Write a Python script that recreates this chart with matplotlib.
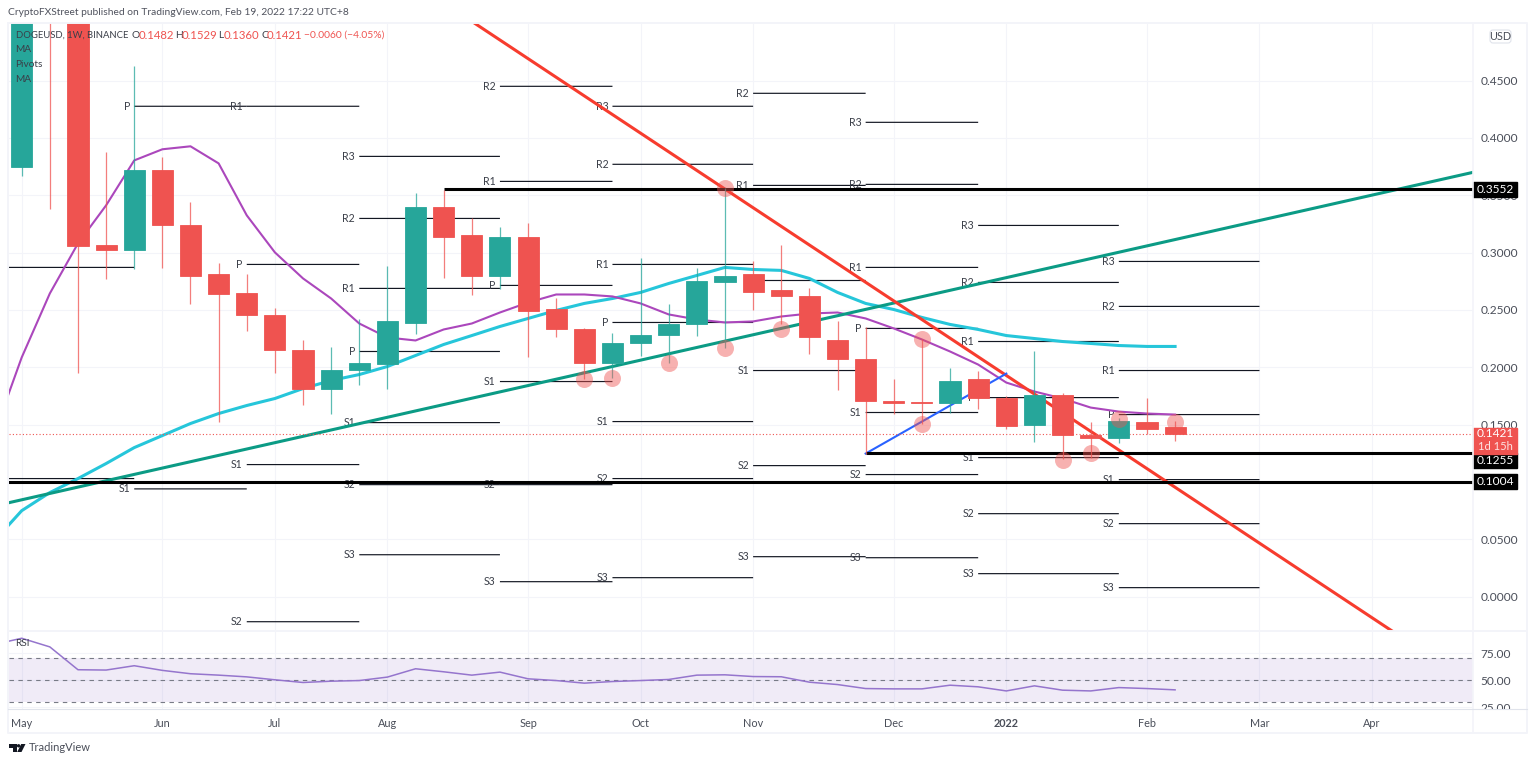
import numpy as np
import matplotlib
matplotlib.use("Agg")
import matplotlib.pyplot as plt
from matplotlib.patches import Rectangle, Polygon, Circle, FancyBboxPatch
from matplotlib.transforms import blended_transform_factory

plt.rcParams['font.family'] = ['Lato', 'DejaVu Sans']

# weekly candles, index 0 is the first week on the chart
opens = [.375, .56, .52, .307, .302, .372, .324, .281, .265, .246, .2155, .181, .198, .203,
         .239, .340, .315, .280, .314, .2505, .233, .204, .2215, .228, .238, .274, .281, .267,
         .2625, .224, .207, .171, .1695, .169, .1895, .173, .150, .176, .141, .138, .1525, .1482]
closes = [.56, .52, .306, .302, .372, .324, .280, .2635, .246, .2155, .181, .198, .204, .240,
          .340, .314, .280, .314, .2495, .233, .204, .221, .2285, .2375, .2755, .280, .266, .2625,
          .226, .207, .171, .1693, .1685, .1885, .1735, .149, .176, .141, .138, .153, .1465, .1421]
highs = [.58, .74, .55, .388, .463, .383, .344, .291, .281, .252, .224, .218, .2425, .288,
         .352, .355, .330, .322, .326, .260, .234, .230, .295, .2555, .287, .356, .293, .307,
         .2695, .240, .235, .190, .225, .199, .1965, .175, .2145, .178, .152, .156, .173, .1529]
lows = [.367, .338, .195, .277, .286, .287, .255, .152, .232, .195, .167, .159, .185, .181,
        .229, .278, .263, .268, .209, .226, .190, .191, .210, .204, .227, .217, .250, .238,
        .212, .180, .1248, .159, .151, .160, .164, .146, .135, .120, .121, .134, .142, .1360]

# moving averages and rsi start one week left of the chart edge
ma_purple = [.1405, .2086, .2644, .3080, .3412, .3804, .3901, .3927, .3778, .3325, .3002, .2775,
             .2600, .2382, .2260, .2234, .2330, .2382, .2478, .2565, .2635, .2635, .2618, .2557,
             .2461, .2417, .2391, .2400, .2443, .2469, .2478, .2426, .2339, .2243, .2138, .2024,
             .1867, .1789, .1728, .1649, .1614, .1597, .1588]
ma_cyan = [.0480, .0750, .0908, .1030, .1161, .1300, .1405, .1510, .1597, .1667, .1728, .1815,
           .1885, .1937, .2007, .2103, .2199, .2277, .2356, .2426, .2496, .2557, .2600, .2653,
           .2731, .2801, .2871, .2853, .2845, .2775, .2653, .2557, .2504, .2435, .2374, .2330,
           .2277, .2251, .2225, .2208, .2190, .2182, .2182]
rsi = [82.8, 88.7, 80.7, 59.6, 59.3, 63.3, 59.0, 55.9, 54.6, 53.0, 50.3, 47.8, 49.0, 49.6, 52.8,
       60.5, 57.7, 54.6, 57.4, 51.2, 49.6, 47.2, 48.7, 49.6, 50.6, 54.6, 54.9, 53.3, 53.1, 48.1,
       45.9, 42.2, 41.9, 41.9, 45.3, 43.8, 40.0, 44.7, 40.7, 40.0, 43.1, 42.2, 41.0]

# pivot levels per period
period_starts = [-1, 4, 8, 12, 17, 21, 26, 30, 34, 39]
period_ends = [4, 8, 12, 17, 21, 26, 30, 34, 39, 44]
period_names = [['P', 'S1'], ['P', 'S1'], ['R1', 'P', 'S1', 'S2'],
                ['R3', 'R2', 'R1', 'P', 'S1', 'S2', 'S3'], ['R2', 'R1', 'P', 'S1', 'S2', 'S3'],
                ['R3', 'R2', 'R1', 'P', 'S1', 'S2', 'S3'], ['R2', 'R1', 'P', 'S1', 'S2', 'S3'],
                ['R3', 'R2', 'R1', 'P', 'S1', 'S2', 'S3'], ['R3', 'R2', 'R1', 'P', 'S1', 'S2', 'S3'],
                ['R3', 'R2', 'R1', 'P', 'S1', 'S2', 'S3']]
period_prices = [[.2871, .1030], [.4276, .0940], [.4276, .2897, .1152, -.0218],
                 [.3839, .3298, .2688, .2138, .1518, .0977, .0366],
                 [.4450, .3621, .2714, .1876, .0977, .0131],
                 [.4276, .3770, .2897, .2391, .1527, .1030, .0166],
                 [.4389, .3586, .2757, .1972, .1143, .0349],
                 [.4136, .3595, .2871, .2339, .1606, .1065, .0340],
                 [.3237, .2740, .2225, .1736, .1213, .0724, .0201],
                 [.2923, .2531, .1972, .1588, .1021, .0637, .0079]]

# drawings
red_trend_x = [16.1, 48.75]
red_trend_y = [.5000, -.0305]
green_trend_x = [-.45, 51.59]
green_trend_y = [.0820, .3700]
blue_trend_x = [30, 35]
blue_trend_y = [.1248, .1945]
level_starts = [15, 30, -1]
level_prices = [.3552, .1255, .1004]
circle_x = [25, 20, 21, 23, 25, 27, 32, 32, 37, 38, 39, 41]
circle_y = [.356, .190, .191, .204, .217, .233, .225, .1505, .1195, .1255, .155, .1525]

price_ticks = [0, .05, .1, .15, .2, .25, .3, .35, .4, .45]
# 0.1000 sits fully behind the 0.1004 tag in the reference
price_tick_labels = ['0.0000', '0.0500', '', '0.1500', '0.2000', '0.2500', '0.3000', '0.3500',
                     '0.4000', '0.4500']
rsi_ticks = [25, 50, 75]
month_pos = [0, 5, 9, 13, 18, 22, 26, 31, 35, 40, 44, 48]
month_names = ['May', 'Jun', 'Jul', 'Aug', 'Sep', 'Oct', 'Nov', 'Dec', '2022', 'Feb', 'Mar', 'Apr']

UP = '#26a69a'
DOWN = '#ef5350'
GRID = '#f3f4f9'
TEXT = '#4a4e59'
W, H = 1536, 763


def pane(left, top, right, bottom):
    return [left / W, 1 - bottom / H, (right - left) / W, (bottom - top) / H]


fig = plt.figure(figsize=(W / 100, H / 100), dpi=100, facecolor='white')
ax = fig.add_axes(pane(9, 23, 1473, 631))
ax_rsi = fig.add_axes(pane(9, 631, 1473, 709))
for a in (ax, ax_rsi):
    a.set_xlim(-.4515, 51.59)
    a.set_xticks(month_pos)
    a.grid(True, color=GRID, lw=.8)
    a.set_axisbelow(True)
    a.yaxis.tick_right()
    a.tick_params(length=0, labelsize=8.6, labelcolor=TEXT, pad=5.5)
    for s in a.spines.values():
        s.set_visible(False)

ax.set_ylim(-.0299, .5002)
ax.set_yticks(price_ticks)
ax.set_yticklabels(price_tick_labels)
ax.tick_params(labelbottom=False)

x = np.arange(len(opens))
x_ma = np.arange(-1, len(opens))
o, c = np.array(opens), np.array(closes)
colors = [UP if cl >= op else DOWN for op, cl in zip(opens, closes)]

# pivots
for start, end, names, prices in zip(period_starts, period_ends, period_names, period_prices):
    for name, price in zip(names, prices):
        ax.plot([start, end], [price, price], color='#131722', lw=.85, zorder=2, snap=False,
                solid_capstyle='butt')
        if start >= 0:
            ax.annotate(name, (start, price), xytext=(-3, 0), textcoords='offset points',
                        ha='right', va='center', fontsize=7.6, color='#3a3e48', zorder=2)

ax.plot(x_ma, ma_cyan, color='#26c6da', lw=2.2, zorder=2.5)
ax.plot(x_ma, ma_purple, color='#ab47bc', lw=1.5, zorder=2.5)
ax.plot(green_trend_x, green_trend_y, color='#0b9b85', lw=2.2, zorder=2.6)
ax.plot(red_trend_x, red_trend_y, color='#f73c2e', lw=2.2, zorder=2.6)
ax.plot(blue_trend_x, blue_trend_y, color='#2962ff', lw=1.5, zorder=2.6)
for start, price in zip(level_starts, level_prices):
    ax.plot([start, 52], [price, price], color='black', lw=2.2, zorder=2.7, solid_capstyle='butt')
ax.axhline(.1421, color=DOWN, lw=.8, ls=(0, (1, 2)), zorder=2.7)

# candles
ax.vlines(x, lows, highs, colors=colors, lw=.9, alpha=.75, zorder=3)
ax.bar(x, np.abs(c - o), bottom=np.minimum(o, c), width=.75, color=colors, edgecolor=colors,
       linewidth=.6, zorder=3.1)
ax.scatter(circle_x, circle_y, s=150, color=DOWN, alpha=.45, linewidths=0, zorder=4)

# price labels on the scale
tr = blended_transform_factory(ax.transAxes, ax.transData)
box_w = 44 / 1464
for price, text in [(.3552, '0.3552'), (.1255, '0.1255'), (.1004, '0.1004')]:
    yc = price if price != .1255 else .1187
    ax.add_patch(Rectangle((1, yc - 7.5 / 1147), box_w, 15 / 1147, transform=tr, color='black',
                           clip_on=False, zorder=6))
    ax.text(1 + 22 / 1464, yc, text, transform=tr, color='white', ha='center', va='center',
            fontsize=8.6, zorder=7, clip_on=False)
ax.add_patch(Rectangle((1, .1248), box_w, 26 / 1147, transform=tr, color=DOWN, clip_on=False, zorder=6))
ax.text(1 + 22 / 1464, .1421, '0.1421', transform=tr, color='white', ha='center', va='center',
        fontsize=8.6, zorder=7, clip_on=False)
ax.text(1 + 22 / 1464, .1310, '1d 15h', transform=tr, color='#fde3e2', ha='center', va='center',
        fontsize=8.0, zorder=7, clip_on=False)

# rsi pane
ax_rsi.set_ylim(23.3, 95.4)
ax_rsi.set_yticks(rsi_ticks)
ax_rsi.set_yticklabels([f'{v:.2f}' for v in rsi_ticks])
ax_rsi.set_xticklabels(month_names)
ax_rsi.tick_params(axis='x', pad=6.5, labelsize=7.8, labelcolor=TEXT)
ax_rsi.get_xticklabels()[8].set_fontweight('bold')
ax_rsi.axhspan(30, 70, color='#9575cd', alpha=.14, lw=0, zorder=1)
for level in (30, 50, 70):
    ax_rsi.axhline(level, color='#787b86', lw=.8, ls=(0, (4, 4)), zorder=2)
ax_rsi.plot(x_ma, rsi, color='#9575cd', lw=1.1, zorder=3)

# frame, header and footer drawn in pixel coordinates
chrome = fig.add_axes([0, 0, 1, 1], zorder=10)
chrome.set_xlim(0, W)
chrome.set_ylim(H, 0)
chrome.axis('off')
chrome.add_patch(Rectangle((1474, 709.5), 52, 23, color='white', lw=0))
chrome.plot([8, 1527, 1527, 8, 8], [23, 23, 733, 733, 23], color=GRID, lw=1.4)
chrome.plot([1473, 1473], [23, 733], color=GRID, lw=1.2)
chrome.plot([8, 1527], [630.5, 630.5], color=GRID, lw=1.4)
chrome.plot([8, 1527], [709, 709], color='#e0e3eb', lw=.8)

chrome.text(8, 12.5, 'CryptoFXStreet published on TradingView.com, Feb 19, 2022 17:22 UTC+8',
            fontsize=7.4, color='#50535e', va='center')
legend_y = 35.5
for px, text, col, size in [(15.5, 'DOGEUSD, 1W, BINANCE', '#3a3e48', 6.8), (131.5, 'O', '#3a3e48', 7.4),
                            (138.5, '0.1482', DOWN, 8.2), (175, 'H', '#3a3e48', 7.4),
                            (182, '0.1529', DOWN, 8.2), (218, 'L', '#3a3e48', 7.4),
                            (224, '0.1360', DOWN, 8.2), (261, 'C', '#3a3e48', 7.4),
                            (267, '0.1421', DOWN, 8.2), (304, '\u22120.0060 (\u22124.05%)', DOWN, 7.4)]:
    chrome.text(px, legend_y, text, fontsize=size, color=col, va='center')
for py, text in [(50, 'MA'), (64.5, 'Pivots'), (79, 'MA')]:
    chrome.text(15.5, py, text, fontsize=7.3, color='#3a3e48', va='center')
chrome.text(15.5, 644, 'RSI', fontsize=7.3, color='#3a3e48', va='center')

chrome.add_patch(FancyBboxPatch((1490, 30), 21, 13, boxstyle='round,pad=0,rounding_size=3',
                                fc='white', ec='#e0e3eb', lw=.8))
chrome.text(1500.5, 36.5, 'USD', fontsize=7.8, color=TEXT, ha='center', va='center')

# logo
chrome.add_patch(Polygon([(8.5, 744), (17, 744), (17, 752), (12.5, 752), (12.5, 747.5), (8.5, 747.5)],
                         color='#131722', lw=0))
chrome.add_patch(Circle((18.6, 745.8), 1.7, color='#131722', lw=0))
chrome.add_patch(Polygon([(21.2, 744), (25.5, 744), (21.5, 752), (17.2, 752)], color='#131722', lw=0))
chrome.text(28.5, 747.5, 'TradingView', fontsize=8.0, color='#4a4e59', va='center')

fig.savefig('out.png', dpi=100, facecolor='white')
